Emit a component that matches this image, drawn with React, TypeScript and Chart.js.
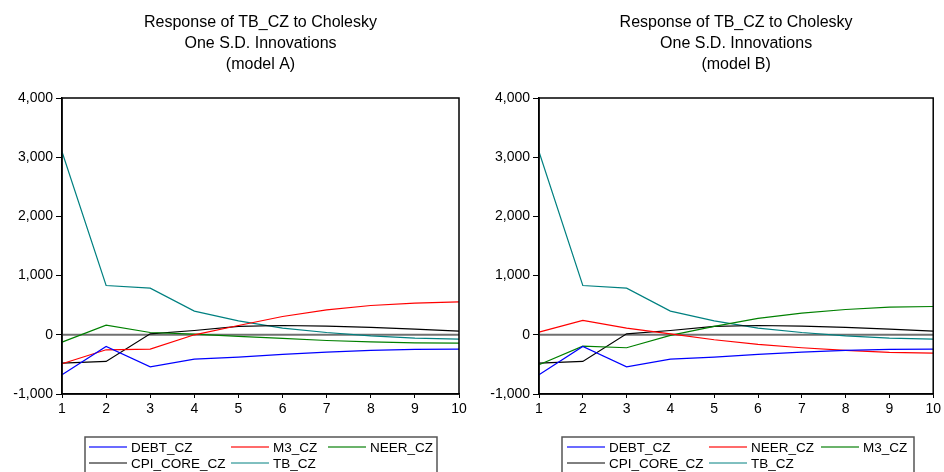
import React, { useEffect, useRef } from "react";
import { Chart, registerables } from "chart.js";

Chart.register(...registerables);

const periods = ["1", "2", "3", "4", "5", "6", "7", "8", "9", "10"];
const yTicks = [-1000, 0, 1000, 2000, 3000, 4000];

// model A
const debtA = [-675, -197, -540, -411, -377, -332, -292, -264, -247, -242];
const m3A = [-489, -253, -242, 0, 157, 309, 422, 495, 534, 557];
const neerA = [-124, 163, 39, 11, -28, -62, -96, -118, -135, -141];
const cpiA = [-478, -450, 17, 73, 141, 157, 146, 124, 96, 62];
const tbA = [3093, 832, 787, 400, 235, 112, 39, -17, -56, -73];

// model B
const debtB = [-675, -197, -540, -411, -377, -332, -292, -264, -247, -242];
const neerB = [45, 242, 112, 17, -84, -163, -219, -264, -298, -309];
const m3B = [-506, -191, -219, -11, 141, 276, 366, 427, 467, 478];
const cpiB = [-478, -450, 17, 73, 141, 157, 146, 124, 96, 62];
const tbB = [3093, 832, 787, 400, 235, 112, 39, -17, -56, -73];

const titleA = ["Response of TB_CZ to Cholesky", "One S.D. Innovations", "(model A)"];
const titleB = ["Response of TB_CZ to Cholesky", "One S.D. Innovations", "(model B)"];

const FONT = "'Liberation Sans', Arial, sans-serif";

type Series = { label: string; data: number[]; color: string; legendColor: string };

type PanelProps = {
  title: string[];
  series: Series[];
  yWidth: number;
  rightPad: number;
  legendCols: number[];
};

function ChartPanel({ title, series, yWidth, rightPad, legendCols }: PanelProps) {
  const ref = useRef<HTMLCanvasElement | null>(null);

  useEffect(() => {
    if (!ref.current) return;
    const decor = {
      id: "decor",
      beforeDatasetsDraw(chart: any) {
        const { ctx, chartArea } = chart;
        const y0 = chart.scales.y.getPixelForValue(0);
        ctx.save();
        ctx.strokeStyle = "#707070";
        ctx.lineWidth = 2;
        ctx.beginPath();
        ctx.moveTo(chartArea.left, y0);
        ctx.lineTo(chartArea.right, y0);
        ctx.stroke();
        ctx.restore();
      },
      afterDraw(chart: any) {
        const { ctx, chartArea } = chart;
        ctx.save();
        ctx.strokeStyle = "#000";
        ctx.lineWidth = 1.5;
        ctx.strokeRect(chartArea.left, chartArea.top, chartArea.right - chartArea.left, chartArea.bottom - chartArea.top);
        ctx.fillStyle = "#000";
        ctx.font = `16px ${FONT}`;
        ctx.textAlign = "center";
        ctx.textBaseline = "middle";
        const cx = (chartArea.left + chartArea.right) / 2;
        title.forEach((t, i) => ctx.fillText(t, cx, 23 + i * 21));
        const L = chartArea.left;
        ctx.strokeStyle = "#555";
        ctx.lineWidth = 1.5;
        ctx.strokeRect(L + 23, 437, 352, 60);
        ctx.font = `13.5px ${FONT}`;
        ctx.textAlign = "left";
        series.forEach((s, i) => {
          const row = Math.floor(i / 3);
          const col = i % 3;
          const x = L + legendCols[col];
          const y = 447 + row * 16;
          ctx.strokeStyle = s.legendColor;
          ctx.lineWidth = row === 0 ? 2 : 1;
          ctx.beginPath();
          ctx.moveTo(x, y);
          ctx.lineTo(x + 38, y);
          ctx.stroke();
          ctx.fillStyle = "#000";
          ctx.fillText(s.label, x + 42, y + 1);
        });
        ctx.restore();
      },
    };

    const chart = new Chart(ref.current, {
      type: "line",
      data: {
        labels: periods,
        datasets: series.map((s) => ({
          label: s.label,
          data: s.data,
          borderColor: s.color,
          backgroundColor: s.color,
          borderWidth: 1.2,
          pointRadius: 0,
          tension: 0,
          fill: false,
        })),
      },
      options: {
        animation: false,
        responsive: false,
        devicePixelRatio: 1,
        layout: { padding: { left: 0, right: rightPad, top: 98, bottom: 54 } },
        plugins: { legend: { display: false }, title: { display: false }, tooltip: { enabled: false } },
        scales: {
          x: {
            type: "category",
            offset: false,
            grid: { drawOnChartArea: false, drawTicks: true, tickLength: 4, color: "#000" },
            border: { display: true, color: "#000", width: 1.5 },
            ticks: { color: "#000", font: { family: FONT, size: 14 }, padding: 3, maxRotation: 0, autoSkip: false },
            afterFit: (scale: any) => {
              scale.height = 24;
            },
          },
          y: {
            min: -1000,
            max: 4000,
            afterBuildTicks: (scale: any) => {
              scale.ticks = yTicks.map((v) => ({ value: v }));
            },
            grid: { drawOnChartArea: false, drawTicks: true, tickLength: 6, color: "#000" },
            border: { display: true, color: "#000", width: 1.5 },
            ticks: {
              color: "#000",
              font: { family: FONT, size: 14 },
              padding: 3,
              callback: (v: any) => Number(v).toLocaleString("en-US"),
            },
            afterFit: (scale: any) => {
              scale.width = yWidth;
            },
          },
        },
      },
      plugins: [decor],
    } as any);
    return () => chart.destroy();
  }, []);

  return <canvas ref={ref} width={472} height={472} style={{ display: "block", width: 472, height: 472 }} />;
}

export default function App() {
  const seriesA: Series[] = [
    { label: "DEBT_CZ", data: debtA, color: "#0000ff", legendColor: "#6b6bff" },
    { label: "M3_CZ", data: m3A, color: "#ff0000", legendColor: "#ff6b6b" },
    { label: "NEER_CZ", data: neerA, color: "#008000", legendColor: "#6bb36b" },
    { label: "CPI_CORE_CZ", data: cpiA, color: "#000000", legendColor: "#000000" },
    { label: "TB_CZ", data: tbA, color: "#008080", legendColor: "#008080" },
  ];
  const seriesB: Series[] = [
    { label: "DEBT_CZ", data: debtB, color: "#0000ff", legendColor: "#6b6bff" },
    { label: "NEER_CZ", data: neerB, color: "#ff0000", legendColor: "#ff6b6b" },
    { label: "M3_CZ", data: m3B, color: "#008000", legendColor: "#6bb36b" },
    { label: "CPI_CORE_CZ", data: cpiB, color: "#000000", legendColor: "#000000" },
    { label: "TB_CZ", data: tbB, color: "#008080", legendColor: "#008080" },
  ];
  return (
    <div style={{ position: "fixed", left: 0, top: 0, width: 944, height: 472, background: "#fff", overflow: "hidden" }}>
      <div style={{ position: "absolute", left: 0, top: 0 }}>
        <ChartPanel title={titleA} series={seriesA} yWidth={62} rightPad={13} legendCols={[27, 169, 266]} />
      </div>
      <div style={{ position: "absolute", left: 472, top: 0 }}>
        <ChartPanel title={titleB} series={seriesB} yWidth={67} rightPad={8} legendCols={[28, 170, 282]} />
      </div>
    </div>
  );
}
